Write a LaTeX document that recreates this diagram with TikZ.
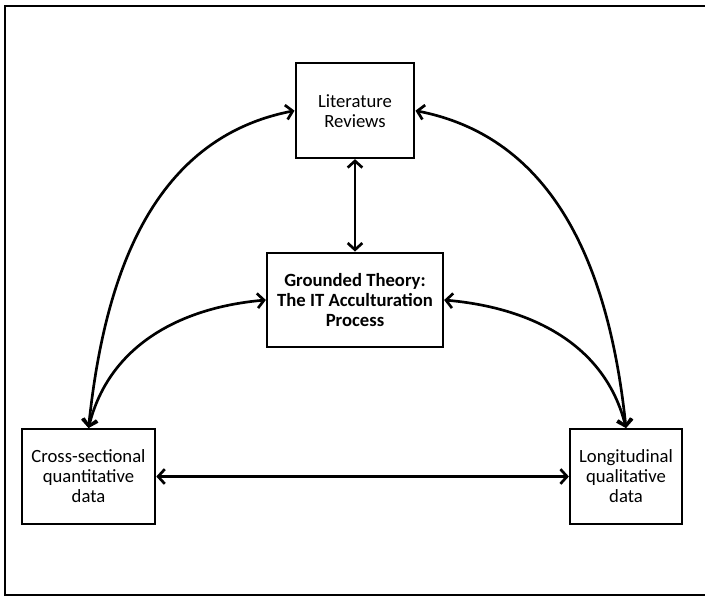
\documentclass[tikz,border=0pt]{standalone}
\usepackage{fontspec}
\setmainfont{Carlito}
\usetikzlibrary{arrows.meta}

\begin{document}
\begin{tikzpicture}[x=0.75pt, y=-0.75pt, node distance=142pt, font=\fontsize{14}{15}\selectfont]
        % Styles
        \tikzstyle{block} = [rectangle, draw, line width=1.7pt, align=center, minimum height=71pt, inner sep=0pt]
        \tikzstyle{line} = [draw, line width=2pt, {Straight Barb[length=5pt,width=11pt]}-{Straight Barb[length=5pt,width=11pt]}]

        % Frame
        \useasboundingbox (0,0) rectangle (705,596);
        \draw [line width=1.7pt] (5,6) rectangle (708,595);

        % Nodes
        \node [block, minimum width=132pt, font=\fontsize{14}{15}\selectfont\bfseries] (theory) at (355,300) {Grounded Theory:\\The IT Acculturation\\Process};
        \node [block, minimum width=89pt, above of=theory] (lit) {Literature\\Reviews};
        \node [block, minimum width=100pt] (cross) at (88.5,476.5) {Cross-sectional\\quantitative\\data};
        \node [block, minimum width=84pt] (long) at (626,476.5) {Longitudinal\\qualitative\\data};

        % Edges
        \path [line] (lit) -- (theory);
        \path [line] (cross) -- (long);
        \path [line] (lit.west) to [out=191, in=84] (cross.north);
        \path [line] (theory.west) to [out=185, in=76] (cross.north);
        \path [line] (lit.east) to [out=-11, in=96] (long.north);
        \path [line] (theory.east) to [out=-5, in=104] (long.north);
    \end{tikzpicture}
\end{document}
